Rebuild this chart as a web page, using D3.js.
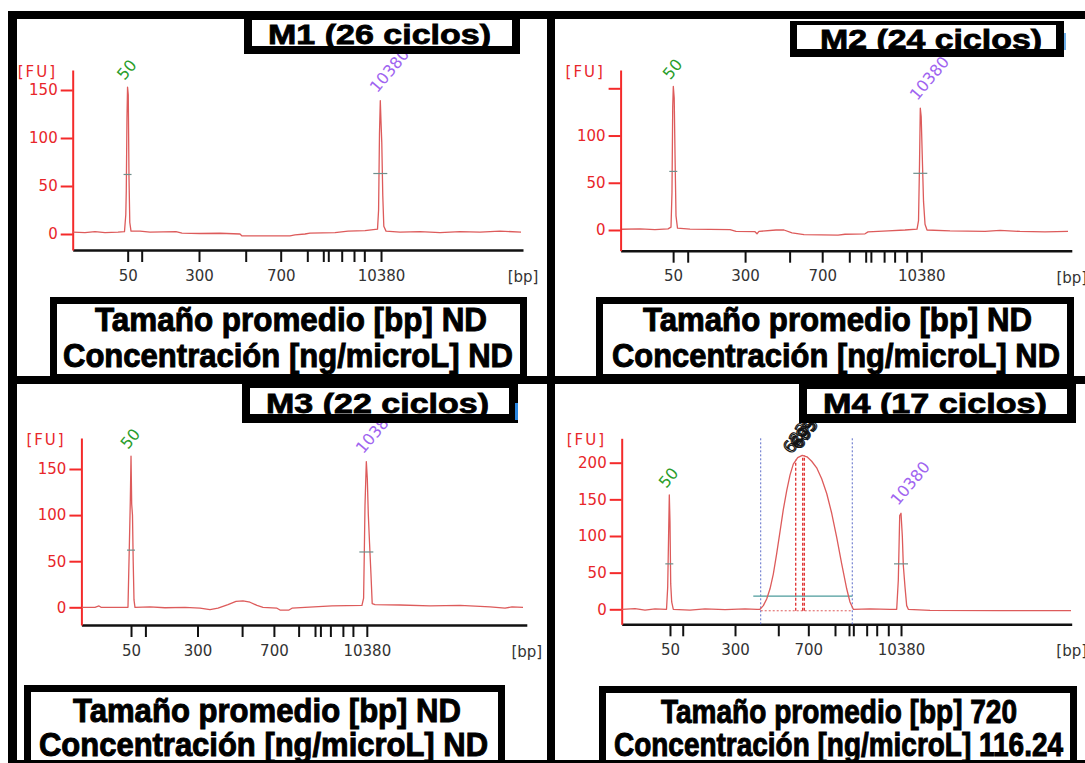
<!DOCTYPE html>
<html>
<head>
<meta charset="utf-8">
<script src="https://cdn.jsdelivr.net/npm/d3@7"></script>
<style>
  body { margin: 0; background: #fff; }
  svg { display: block; }
</style>
</head>
<body>
<svg width="1085" height="763"></svg>
<script>
// DNA 7500 ladder (bp) and the labelled ones
const ladderBp = [50, 100, 300, 500, 700, 1000, 1500, 2000, 3000, 5000, 7000, 10380];
const labeledBp = [50, 300, 700, 10380];

// migration time [s] of each ladder band, per run
const m1Ladder = [32.21, 35.32, 48.05, 58.42, 66.19, 72.10, 75.65, 76.76, 79.74, 82.47, 84.76, 88.47];
const m2Ladder = [31.64, 34.87, 47.59, 57.46, 64.68, 70.69, 74.32, 75.47, 78.40, 80.73, 83.41, 86.64];
const m3Ladder = [31.14, 34.37, 46.07, 56.08, 63.22, 68.77, 72.45, 73.66, 75.90, 78.71, 80.96, 84.08];
const m4Ladder = [30.73, 33.56, 45.18, 54.80, 61.47, 67.40, 70.51, 71.47, 74.44, 76.67, 79.24, 82.07];

// electropherograms: [time s, FU]
const m1Trace = [[20.07,2],[22.73,1.5],[24.95,2.5],[27.17,1.5],[30.06,2],[31.50,2.5],[31.79,20],[31.90,45],[32.05,120],[32.18,153],[32.34,145],[32.50,60],[32.68,12],[32.95,3],[34.95,3],[37.17,2],[42.94,2.5],[44.27,1],[48.27,0.5],[52.71,0.8],[57.15,0],[57.60,-2],[68.26,-2],[69.37,-1],[71.58,0],[72.69,1],[78.25,1.5],[81.14,3],[84.91,3.5],[87.69,5],[87.93,25],[88.13,105],[88.31,139],[88.46,118],[88.64,95],[88.86,40],[89.09,8],[89.58,3],[92.69,2],[97.13,2.5],[101.57,1.5],[106.01,2.5],[110.45,2],[114.89,3],[119.56,2]];
const m2Trace = [[20.31,0.8],[24.30,1.2],[27.62,0.5],[30.51,1.2],[31.17,3],[31.39,40],[31.55,130],[31.68,152],[31.88,140],[32.06,80],[32.28,15],[32.61,2],[35.38,1],[44.25,0.5],[45.58,-1.5],[49.79,-1.8],[50.23,-4],[50.67,-1.5],[54.44,0],[56.21,0],[57.99,-3],[60.65,-5],[68.19,-5.5],[69.74,-4.5],[74.17,-4],[74.84,-2],[79.27,-1],[83.04,0],[85.70,1],[86.03,10],[86.25,70],[86.42,129],[86.62,120],[86.85,80],[87.14,30],[87.47,6],[87.91,0],[93.01,-1],[100.77,-1.5],[104.09,-0.5],[108.52,-1.5],[114.06,-2],[119.16,-1.5]];
const m3Trace = [[20.13,0],[23.05,0],[23.95,1.5],[24.40,0],[30.46,0],[30.64,40],[30.78,70],[30.98,115],[31.14,164],[31.29,112],[31.47,100],[31.63,50],[31.81,8],[32.03,0],[35.40,0.5],[38.77,-0.5],[43.26,0],[46.63,-1],[48.87,-2.5],[50.67,-1],[52.91,3],[54.71,6.5],[56.28,7],[57.85,5.5],[59.42,2],[60.77,0],[63.91,-1],[64.59,-3],[66.61,-3],[67.28,-1],[70.20,0],[76.26,1.5],[82.99,2],[83.36,10],[83.52,60],[83.67,110],[83.97,158],[84.19,140],[84.42,100],[84.69,70],[85.02,35],[85.29,4],[85.92,3],[91.53,2.5],[98.27,1.5],[105.00,2],[111.74,0.5],[115.11,-1],[116.68,0.5],[119.15,0]];
const m4Trace = [[20.07,0],[22.96,1],[25.18,-1],[27.40,0.5],[29.96,0],[30.22,30],[30.42,100],[30.58,156],[30.73,120],[30.89,35],[31.11,10],[31.47,0],[35.18,-1],[38.51,0.5],[42.96,-0.5],[47.40,0.5],[50.07,0],[50.73,0],[51.47,5],[52.22,14],[52.96,28],[53.69,48],[54.44,76],[55.18,106],[55.91,136],[56.67,162],[57.40,183],[58.13,198],[59.11,207],[60.13,210],[61.18,208],[62.22,202],[63.33,193],[64.44,178],[65.56,158],[66.67,131],[67.78,98],[68.89,62],[70.00,28],[70.73,10],[71.47,0],[75.18,0.5],[79.62,0],[81.11,0],[81.47,40],[81.78,128],[82.07,131],[82.36,100],[82.58,60],[82.96,30],[83.33,5],[83.69,0],[88.51,-1.5],[104.07,-1.8],[119.84,-1.8]];

// FU ticks
const fuTicks150 = [0, 50, 100, 150];
const fuTicks200 = [0, 50, 100, 150, 200];

// peak-width marker height [FU] for lower / upper marker
const m1HalfFu = [62, 63];
const m2HalfFu = [62, 60];
const m3HalfFu = [62, 60];
const m4HalfFu = [62, 62];

// M4 smear region
const m4Region = [50.89, 71.24];
const m4TealSpan = [49.24, 71.24];
const m4RegionFu = 18;
const m4PeakSec = [58.67, 60.22, 60.58];
const m4PeakFu = [204, 210, 210];
const m4PeakLabels = ["623", "689", "695"];

// texts
const titles = ["M1 (26 ciclos)", "M2 (24 ciclos)", "M3 (22 ciclos)", "M4 (17 ciclos)"];
const avgSize = ["ND", "ND", "ND", "720"];
const concentration = ["ND", "ND", "ND", "116.24"];

const svg = d3.select("svg");
const traceColor = "#dd5b5b";
const axisRed = "#f42a2a";

var panels = [
  {ladder: m1Ladder, trace: m1Trace, half: m1HalfFu, fuTicks: fuTicks150, hide: [],
   x0: 72.7, x1: 523, yTop: 70, xAxisY: 250, y0px: 234, fuRef: 150, yRefPx: 90,
   tb: [244, 14, 276, 40], tbIn: [252, 20, 260, 26], tt: [379.5, 44, 223],
   ib: [50, 297, 477, 87], ibIn: [57, 304, 463, 70], l1: [291, 331, 392], l2: [288, 367, 450]},
  {ladder: m2Ladder, trace: m2Trace, half: m2HalfFu, fuTicks: fuTicks150, hide: [150],
   x0: 620.6, x1: 1071.8, yTop: 70, xAxisY: 250.7, y0px: 230, fuRef: 150, yRefPx: 88.3,
   tb: [790, 21, 274, 36], tbIn: [797, 25, 259, 24], tt: [931, 49, 222],
   ib: [596, 297, 478, 87], ibIn: [603, 304, 464, 70], l1: [837.5, 331, 389], l2: [836, 367, 448]},
  {ladder: m3Ladder, trace: m3Trace, half: m3HalfFu, fuTicks: fuTicks150, hide: [],
   x0: 81.4, x1: 526.8, yTop: 438, xAxisY: 625, y0px: 607.3, fuRef: 150, yRefPx: 469,
   tb: [242, 384, 276, 39], tbIn: [250, 388, 259, 26], tt: [377.5, 412.5, 223],
   ib: [24, 685, 481, 80], ibIn: [31, 692, 467, 80], l1: [267, 722, 388], l2: [263.5, 756, 449]},
  {ladder: m4Ladder, trace: m4Trace, half: m4HalfFu, fuTicks: fuTicks200, hide: [],
   x0: 621.7, x1: 1071.7, yTop: 438.3, xAxisY: 624.3, y0px: 609.3, fuRef: 200, yRefPx: 462.7,
   tb: [799, 384, 277, 39], tbIn: [807, 389, 260, 25], tt: [935, 413, 224],
   ib: [599, 686, 478, 80], ibIn: [606, 693, 464, 80], l1: [839, 723, 356], l2: [838.5, 756, 449],
   smear: true}
];

function peakNear(trace, t) {
  var near = trace.filter(d => Math.abs(d[0] - t) < 1.5);
  return near.reduce((a, b) => (b[1] > a[1] ? b : a));
}

function drawPanel(p, k) {
  var g = svg.append("g");
  var x = d3.scaleLinear().domain([20, 120]).range([p.x0, p.x1]);
  var y = d3.scaleLinear().domain([0, p.fuRef]).range([p.y0px, p.yRefPx]);

  // x axis (bp ladder positions)
  var xAxis = d3.axisBottom(x)
    .tickValues(p.ladder)
    .tickSize(12).tickSizeOuter(0).tickPadding(8)
    .tickFormat((d, i) => labeledBp.includes(ladderBp[i]) ? ladderBp[i] : "");
  var gx = g.append("g").attr("transform", "translate(0," + p.xAxisY + ")").call(xAxis);
  gx.attr("font-family", "DejaVu Sans").attr("font-size", 15);
  gx.select(".domain").attr("stroke", "#111").attr("stroke-width", 2.5);
  gx.selectAll(".tick line").attr("stroke", "#111").attr("stroke-width", 2);
  gx.selectAll(".tick text").attr("fill", "#333");
  g.append("text").text("[bp]")
    .attr("x", p.x1).attr("y", p.xAxisY + 32)
    .attr("text-anchor", "middle")
    .attr("font-family", "DejaVu Sans").attr("font-size", 15).attr("fill", "#333");

  // y axis, drawn from the x axis up to the top
  var yAx = d3.scaleLinear()
    .domain([y.invert(p.xAxisY), y.invert(p.yTop)])
    .range([p.xAxisY, p.yTop]);
  var gy = g.append("g").attr("transform", "translate(" + p.x0 + ",0)")
    .call(d3.axisLeft(yAx).tickValues(p.fuTicks).tickSize(12).tickSizeOuter(0).tickPadding(3)
      .tickFormat(d => p.hide.includes(d) ? "" : d));
  gy.attr("font-family", "DejaVu Sans").attr("font-size", 15);
  gy.select(".domain").attr("stroke", axisRed).attr("stroke-width", 2);
  gy.selectAll(".tick line").attr("stroke", axisRed).attr("stroke-width", 2);
  gy.selectAll(".tick text").attr("fill", "#e8262a");
  g.append("text").text("[FU]")
    .attr("x", p.x0 - 55).attr("y", p.yTop + 7)
    .attr("letter-spacing", 2)
    .attr("font-family", "DejaVu Sans").attr("font-size", 15).attr("fill", "#e8262a");

  // M4 smear region decorations (under the trace)
  if (p.smear) {
    g.selectAll(".regline").data(m4Region).enter().append("line")
      .attr("x1", d => x(d)).attr("x2", d => x(d))
      .attr("y1", p.yTop).attr("y2", p.xAxisY)
      .attr("stroke", "#5b6bc9").attr("stroke-width", 1).attr("stroke-dasharray", "2,2");
    g.append("line")
      .attr("x1", x(m4Region[0])).attr("x2", x(m4Region[1]))
      .attr("y1", y(-2)).attr("y2", y(-2))
      .attr("stroke", traceColor).attr("stroke-width", 1).attr("stroke-dasharray", "2,2");
    g.append("line")
      .attr("x1", x(m4TealSpan[0])).attr("x2", x(m4TealSpan[1]))
      .attr("y1", y(m4RegionFu)).attr("y2", y(m4RegionFu))
      .attr("stroke", "#4d9b9b").attr("stroke-width", 1.2);
    g.selectAll(".pkline").data(m4PeakSec).enter().append("line")
      .attr("x1", d => x(d)).attr("x2", d => x(d))
      .attr("y1", y(-2)).attr("y2", (d, i) => y(m4PeakFu[i]))
      .attr("stroke", "#e03030").attr("stroke-width", 1.3).attr("stroke-dasharray", "3,2");
  }

  // trace
  var line = d3.line().x(d => x(d[0])).y(d => y(d[1]));
  g.append("path").datum(p.trace)
    .attr("d", line)
    .attr("fill", "none").attr("stroke", traceColor).attr("stroke-width", 1.3)
    .attr("stroke-linejoin", "round");

  // marker peaks: width bars and labels
  var lo = peakNear(p.trace, p.ladder[0]);
  var hi = peakNear(p.trace, p.ladder[p.ladder.length - 1]);
  [[lo, p.half[0], 4], [hi, p.half[1], 7]].forEach(function (m) {
    g.append("line")
      .attr("x1", x(m[0][0]) - m[2]).attr("x2", x(m[0][0]) + m[2])
      .attr("y1", y(m[1])).attr("y2", y(m[1]))
      .attr("stroke", "#6e8f8c").attr("stroke-width", 1.2);
  });
  g.append("text").text("50")
    .attr("transform", "translate(" + (x(lo[0]) - 3) + "," + (y(lo[1]) - 6) + ") rotate(-50)")
    .attr("font-family", "DejaVu Sans").attr("font-size", 16).attr("fill", "#2a9d2a");
  g.append("text").text("10380")
    .attr("transform", "translate(" + (x(hi[0]) - 3) + "," + (y(hi[1]) - 7) + ") rotate(-50)")
    .attr("font-family", "DejaVu Sans").attr("font-size", 16).attr("fill", "#a064f0");

  if (p.smear) {
    g.selectAll(".pklab").data(m4PeakLabels).enter().append("text")
      .text(d => d)
      .attr("transform", (d, i) => "translate(" + (x(m4PeakSec[i]) - 4) + "," + (y(m4PeakFu[i]) - 5) + ") rotate(-55)")
      .attr("font-family", "DejaVu Sans").attr("font-size", 17)
      .attr("fill", "none").attr("stroke", "#111").attr("stroke-width", 1.1);
  }

  // title box
  svg.append("rect").attr("x", p.tb[0]).attr("y", p.tb[1]).attr("width", p.tb[2]).attr("height", p.tb[3]).attr("fill", "#000");
  svg.append("rect").attr("x", p.tbIn[0]).attr("y", p.tbIn[1]).attr("width", p.tbIn[2]).attr("height", p.tbIn[3]).attr("fill", "#fff");
  svg.append("text").text(titles[k])
    .attr("x", p.tt[0]).attr("y", p.tt[1])
    .attr("text-anchor", "middle")
    .attr("textLength", p.tt[2]).attr("lengthAdjust", "spacingAndGlyphs")
    .attr("font-family", "Liberation Sans, Arial, sans-serif").attr("font-weight", "bold")
    .attr("font-size", 28).attr("fill", "#000")
    .attr("stroke", "#000").attr("stroke-width", 0.8);

  // results box
  svg.append("rect").attr("x", p.ib[0]).attr("y", p.ib[1]).attr("width", p.ib[2]).attr("height", p.ib[3]).attr("fill", "#000");
  svg.append("rect").attr("x", p.ibIn[0]).attr("y", p.ibIn[1]).attr("width", p.ibIn[2]).attr("height", p.ibIn[3]).attr("fill", "#fff");
  var lines = ["Tamaño promedio [bp] " + avgSize[k], "Concentración [ng/microL] " + concentration[k]];
  [p.l1, p.l2].forEach(function (l, j) {
    svg.append("text").text(lines[j])
      .attr("x", l[0]).attr("y", l[1])
      .attr("text-anchor", "middle")
      .attr("textLength", l[2]).attr("lengthAdjust", "spacingAndGlyphs")
      .attr("font-family", "Liberation Sans Narrow, Liberation Sans, Arial, sans-serif")
      .attr("font-weight", "bold").attr("font-size", 34).attr("fill", "#000")
      .attr("stroke", "#000").attr("stroke-width", 1);
  });
}

panels.forEach(drawPanel);

// little blue scraps left over from the screenshot
svg.append("rect").attr("x", 515).attr("y", 403).attr("width", 3).attr("height", 17).attr("fill", "#2a86e0");
svg.append("rect").attr("x", 1064).attr("y", 33).attr("width", 2).attr("height", 17).attr("fill", "#6fb0ea");

// panel frame
var frame = [[8, 11, 1077, 8], [8, 11, 9, 752], [547, 11, 8, 752], [8, 376, 1077, 8], [8, 760, 1077, 3]];
svg.selectAll(".frame").data(frame).enter().append("rect")
  .attr("x", d => d[0]).attr("y", d => d[1]).attr("width", d => d[2]).attr("height", d => d[3])
  .attr("fill", "#000");
</script>
</body>
</html>
